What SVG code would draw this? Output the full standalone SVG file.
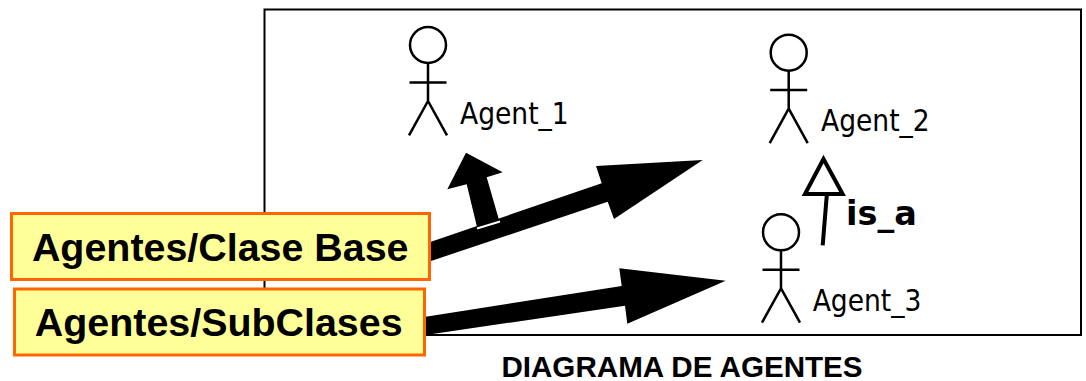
<svg xmlns="http://www.w3.org/2000/svg" width="1086" height="381" viewBox="0 0 1086 381">
<defs>
<g id="actor" fill="none" stroke="#000" stroke-width="2.500">
<circle cx="0" cy="0" r="18"/>
<path d="M0 18V56M-18.500 37.400H18.500M-19 90.400L0 56L19 90.400"/>
</g>
</defs>
<style>
.box{fill:#FFFF99;stroke:#FF6600;stroke-width:3}
.big{font:bold 39.400px "Liberation Sans",Arial,sans-serif;fill:#000}
.lab{font:29.500px "DejaVu Sans Condensed","DejaVu Sans",sans-serif;fill:#000}
.arr{fill:#000}
</style>
<rect id="frame" x="264.500" y="9.500" width="816.500" height="325.500" fill="#fff" stroke="#000" stroke-width="2"/>
<g id="agent1"><use href="#actor" x="428" y="45"/><text class="lab" x="460" y="124">Agent_1</text></g>
<g id="agent2"><use href="#actor" x="788.700" y="52.700"/><text class="lab" x="821" y="130.500">Agent_2</text></g>
<g id="agent3"><use href="#actor" x="781" y="232.300"/><text class="lab" x="812.700" y="310.500">Agent_3</text></g>
<g id="connectors">
<polygon class="arr" points="431,241.700 601.700,183.300 596,166 702.700,160 614,219 607.700,201.700 431,261"/>
<polygon class="arr" points="425.700,316.700 621.700,286 619.300,268.300 725.700,280.700 627.300,323.700 625,305.700 425.700,335"/>
<polygon class="arr" points="477.300,228.300 466.700,184.300 447.300,189.300 466,152.700 502.700,172.300 486.700,177.300 499.300,221"/>
<path d="M477 228.500L500 221.500" stroke="#fff" stroke-width="2"/>
<path d="M823.500 159L805 194H842.600Z" fill="none" stroke="#000" stroke-width="4"/>
<path d="M826.800 195L822.700 245.300" fill="none" stroke="#000" stroke-width="4"/>
</g>
<text id="isa" x="846" y="225" font-family="'DejaVu Sans',Verdana,sans-serif" font-weight="bold" font-size="33.500">is_a</text>
<g id="base"><rect class="box" x="11.500" y="213.500" width="418" height="66"/><text class="big" x="220.200" y="260.500" text-anchor="middle">Agentes/Clase Base</text></g>
<g id="sub"><rect class="box" x="14.500" y="289" width="410" height="66"/><text class="big" x="218.700" y="335.500" text-anchor="middle">Agentes/SubClases</text></g>
<text id="title" x="682" y="377" text-anchor="middle" font-family="'Liberation Sans',Arial,sans-serif" font-weight="bold" font-size="29.600">DIAGRAMA DE AGENTES</text>
</svg>
